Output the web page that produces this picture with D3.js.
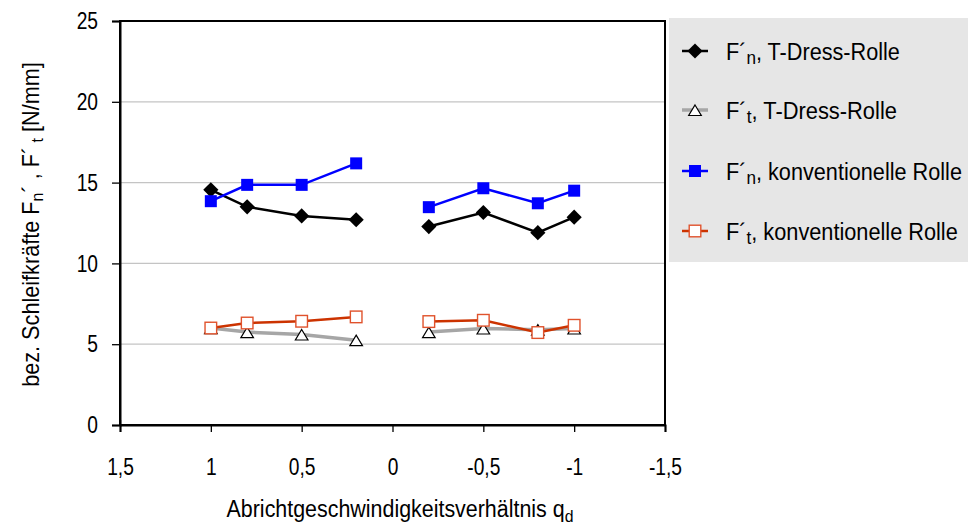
<!DOCTYPE html>
<html><head><meta charset="utf-8">
<script src="https://cdn.jsdelivr.net/npm/d3@7"></script>
<style>
body{margin:0;background:#fff;}
text{font-family:"Liberation Sans Narrow","Arial Narrow","Liberation Sans",Arial,sans-serif;fill:#000;}
</style></head><body>
<svg id="c" width="968" height="525"></svg>
<script>
const xTicks = [1.5, 1, 0.5, 0, -0.5, -1, -1.5];
const yTicks = [0, 5, 10, 15, 20, 25];
const xLeft = [1, 0.8, 0.5, 0.2];
const xRight = [-0.2, -0.5, -0.8, -1];
const fnTDressLeft = [14.55, 13.5, 12.94, 12.7];
const fnTDressRight = [12.28, 13.15, 11.9, 12.86];
const ftTDressLeft = [6.0, 5.75, 5.6, 5.25];
const ftTDressRight = [5.75, 5.97, 5.9, 5.97];
const fnKonvLeft = [13.85, 14.86, 14.86, 16.19];
const fnKonvRight = [13.48, 14.65, 13.72, 14.5];
const ftKonvLeft = [6.0, 6.31, 6.42, 6.69];
const ftKonvRight = [6.4, 6.48, 5.72, 6.17];

const series = [
  {name:["F´","n",", T-Dress-Rolle"], left:fnTDressLeft, right:fnTDressRight, color:"#000000", width:2.5, marker:"diamond"},
  {name:["F´","t",", T-Dress-Rolle"], left:ftTDressLeft, right:ftTDressRight, color:"#a6a6a6", width:3.5, marker:"triangle"},
  {name:["F´","n",", konventionelle Rolle"], left:fnKonvLeft, right:fnKonvRight, color:"#0000ff", width:2.5, marker:"squareFill"},
  {name:["F´","t",", konventionelle Rolle"], left:ftKonvLeft, right:ftKonvRight, color:"#cc3300", width:2.5, marker:"squareOpen"}
];
const legendWidths = [174, 171, 236, 232];

const svg = d3.select("#c");
const x = d3.scaleLinear().domain([1.5,-1.5]).range([120,665]);
const y = d3.scaleLinear().domain([0,25]).range([425,21]);

// fit a text horizontally (condensed look) around an anchor x
function fit(sel, target, ax){
  const w = sel.node().getBBox().width;
  const s = target / w;
  sel.attr("transform", `translate(${ax},0) scale(${s},1) translate(${-ax},0)`);
}

// gridlines
svg.append("g").selectAll("line").data(yTicks.filter(v=>v>0 && v<25)).join("line")
  .attr("x1",x(1.5)).attr("x2",x(-1.5)).attr("y1",d=>y(d)).attr("y2",d=>y(d))
  .attr("stroke","#c4c4c4").attr("stroke-width",1.2);

// frame
svg.append("rect").attr("x",x(1.5)).attr("y",y(25)).attr("width",x(-1.5)-x(1.5)).attr("height",y(0)-y(25))
  .attr("fill","none").attr("stroke","#000").attr("stroke-width",2);

// axes
const fmt = d => String(d).replace(".",",");
const yAxis = svg.append("g").attr("transform",`translate(${x(1.5)},0)`)
  .call(d3.axisLeft(y).tickValues(yTicks).tickSize(8).tickPadding(22).tickFormat(d3.format("d")));
const xAxis = svg.append("g").attr("transform",`translate(0,${y(0)})`)
  .call(d3.axisBottom(x).tickValues(xTicks).tickSize(7).tickPadding(26).tickFormat(fmt));
[yAxis,xAxis].forEach(a=>{
  a.select(".domain").attr("stroke","#000").attr("stroke-width",2);
  a.selectAll(".tick line").attr("stroke","#000").attr("stroke-width",1.3);
  a.selectAll(".tick text").style("font-size","24px").attr("fill","#000")
   .style("font-family",'"Liberation Sans Narrow","Arial Narrow","Liberation Sans",Arial,sans-serif');
});
yAxis.selectAll(".tick text").attr("x",0).attr("transform","translate(-22,0) scale(0.8,1)");
xAxis.selectAll(".tick text").attr("transform","scale(0.8,1)");
xAxis.select(".tick line").attr("y1",-5);

function drawMarker(g, type, color, cx, cy){
  if(type==="diamond"){
    g.append("path").attr("d","M0,-7.6L7.6,0L0,7.6L-7.6,0Z").attr("transform",`translate(${cx},${cy})`)
     .attr("fill",color);
  } else if(type==="triangle"){
    g.append("path").attr("d","M0,-5L6.3,5.5L-6.3,5.5Z").attr("transform",`translate(${cx},${cy})`)
     .attr("fill","#fff").attr("stroke","#000").attr("stroke-width",1.2);
  } else if(type==="squareFill"){
    g.append("rect").attr("x",cx-6).attr("y",cy-6).attr("width",12).attr("height",12).attr("fill",color);
  } else {
    g.append("rect").attr("x",cx-5.8).attr("y",cy-5.8).attr("width",11.6).attr("height",11.6)
     .attr("fill","#fff").attr("stroke","#e0522c").attr("stroke-width",1.4);
  }
}

const line = d3.line().x(d=>x(d[0])).y(d=>y(d[1]));
series.forEach(s=>{
  const g = svg.append("g");
  [[xLeft,s.left],[xRight,s.right]].forEach(([xs,vs])=>{
    const pts = xs.map((v,i)=>[v,vs[i]]);
    g.append("path").attr("d",line(pts)).attr("fill","none").attr("stroke",s.color).attr("stroke-width",s.width);
    pts.forEach(p=>drawMarker(g,s.marker,s.color,x(p[0]),y(p[1])));
  });
});

// legend
svg.append("rect").attr("x",669).attr("y",18).attr("width",299).attr("height",244).attr("fill","#e6e6e6");
const rowY = [51,110,171,231];
series.forEach((s,i)=>{
  const g = svg.append("g");
  const cy = rowY[i];
  g.append("line").attr("x1",682).attr("x2",708).attr("y1",cy).attr("y2",cy).attr("stroke",s.color).attr("stroke-width",s.width);
  drawMarker(g,s.marker,s.color,695,cy);
  const t = g.append("text").attr("x",726).attr("y",cy+9).style("font-size","24px");
  t.append("tspan").text(s.name[0]);
  t.append("tspan").attr("dy",4).style("font-size","19px").text(s.name[1]);
  t.append("tspan").attr("dy",-4).text(s.name[2]);
  fit(t, legendWidths[i], 726);
});

// y title
const ytG = svg.append("g").attr("transform","translate(39,224.5) rotate(-90)");
const yt = ytG.append("text").attr("x",0).attr("y",0).attr("text-anchor","middle").style("font-size","23px");
yt.append("tspan").text("bez. Schleifkräfte  F");
yt.append("tspan").attr("dy",4).style("font-size","17px").text("n");
yt.append("tspan").attr("dy",-4).text("´ , F´");
yt.append("tspan").attr("dy",4).style("font-size","17px").text(" t");
yt.append("tspan").attr("dy",-4).text(" [N/mm]");
fit(yt, 325, 0);

// x title
const xt = svg.append("text").attr("x",400).attr("y",517).attr("text-anchor","middle").style("font-size","23px");
xt.append("tspan").text("Abrichtgeschwindigkeitsverhältnis q");
xt.append("tspan").attr("dy",5).style("font-size","17px").text("d");
fit(xt, 347, 400);
</script></body></html>
